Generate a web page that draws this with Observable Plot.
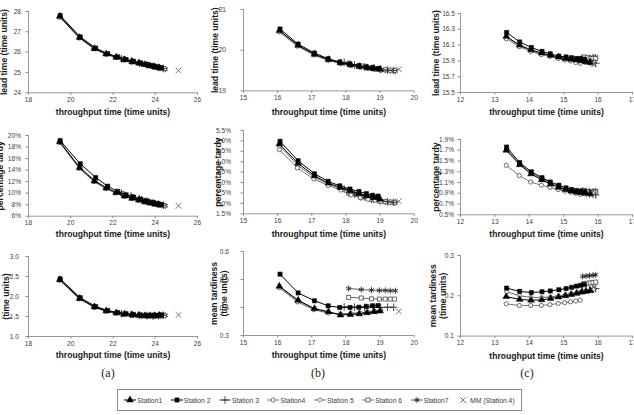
<!DOCTYPE html>
<html>
<head>
<meta charset="utf-8">
<script src="https://cdn.jsdelivr.net/npm/d3@7"></script>
<script src="https://cdn.jsdelivr.net/npm/@observablehq/plot@0.6"></script>
<style>
  html, body { margin: 0; padding: 0; background: #fff; }
  #fig { position: relative; width: 634px; height: 415px; overflow: hidden;
         font-family: "Liberation Sans", Arial, sans-serif; }
  .cap { position: absolute; font-family: "Liberation Serif", "Times New Roman", serif;
         font-size: 12px; color: #222; transform: translate(-50%, -50%); }
  #legend { position: absolute; left: 117px; top: 389px; width: 405px; height: 22px;
            box-sizing: border-box; border: 1px solid #8a8a8a; display: flex;
            align-items: center; justify-content: space-around; padding: 0 2px;
            font-size: 6.8px; color: #3a3a3a; }
  #legend .item { display: flex; align-items: center; white-space: nowrap; }
  #legend svg { margin-right: 1px; }
</style>
</head>
<body>
<div id="fig"></div>
<script>
// ---- data ---------------------------------------------------------------
const stations = ["Station1", "Station 2", "Station 3", "Station4", "Station 5", "Station 6", "Station7"];
const mmLabel = "MM (Station 4)";

// axis ticks
const aXTicks = [18, 20, 22, 24, 26];
const bXTicks = [15, 16, 17, 18, 19, 20];
const cXTicks = [12, 13, 14, 15, 16, 17];
const aLeadTicks = [24, 25, 26, 27, 28];
const bLeadTicks = [19, 20, 21];
const cLeadTicks = [15.5, 15.7, 15.9, 16.1, 16.3, 16.5];
const aTardyTicks = [6, 8, 10, 12, 14, 16, 18, 20];
const bTardyTicks = [1.5, 2.0, 2.5, 3.0, 3.5, 4.0, 4.5, 5.0, 5.5];
const cTardyTicks = [0.5, 0.7, 0.9, 1.1, 1.3, 1.5, 1.7, 1.9];
const aMeanTicks = [1.0, 1.5, 2.0, 2.5, 3.0];
const bMeanTicks = [0.3, 0.4, 0.5, 0.6];
const cMeanTicks = [0.1, 0.2, 0.3];

// (a) throughput time per station (order as in `stations`)
const aX = [
  [19.48, 20.42, 21.12, 21.68, 22.15, 22.55, 22.9, 23.22, 23.5, 23.75, 23.98, 24.2],
  [19.5, 20.45, 21.18, 21.75, 22.22, 22.62, 22.98, 23.3, 23.58, 23.85, 24.08, 24.3],
  [22.4, 22.85, 23.25, 23.6, 23.9, 24.15, 24.38],
  [19.47, 20.4, 21.1, 21.65, 22.12, 22.52, 22.88, 23.2, 23.48, 23.73, 23.96, 24.18],
  [19.49, 20.43, 21.15, 21.7, 22.18, 22.58, 22.94, 23.26, 23.54, 23.8, 24.03, 24.25],
  [22.45, 22.9, 23.3, 23.65, 23.95, 24.2, 24.42],
  [22.5, 22.95, 23.35, 23.7, 24.0, 24.25, 24.48]
];
const aLead = [
  [27.76, 26.72, 26.18, 25.91, 25.75, 25.63, 25.54, 25.46, 25.39, 25.33, 25.27, 25.22],
  [27.8, 26.75, 26.2, 25.93, 25.77, 25.64, 25.55, 25.47, 25.4, 25.33, 25.28, 25.23],
  [25.67, 25.55, 25.46, 25.38, 25.31, 25.25, 25.2],
  [27.72, 26.7, 26.16, 25.9, 25.74, 25.62, 25.53, 25.45, 25.38, 25.32, 25.26, 25.21],
  [27.74, 26.71, 26.17, 25.9, 25.74, 25.62, 25.53, 25.45, 25.38, 25.32, 25.26, 25.21],
  [25.66, 25.54, 25.45, 25.37, 25.3, 25.24, 25.19],
  [25.65, 25.53, 25.44, 25.36, 25.29, 25.23, 25.16]
];
const aTardy = [
  [18.9, 14.4, 12.1, 10.9, 10.1, 9.5, 9.1, 8.8, 8.5, 8.3, 8.1, 7.95],
  [19.1, 15.1, 12.7, 11.2, 10.3, 9.7, 9.3, 8.95, 8.65, 8.4, 8.2, 8.0],
  [10.0, 9.5, 9.0, 8.6, 8.3, 8.1, 7.9],
  [18.8, 14.3, 12.0, 10.8, 10.0, 9.45, 9.05, 8.75, 8.45, 8.25, 8.05, 7.9],
  [18.9, 14.5, 12.2, 10.9, 10.1, 9.5, 9.1, 8.8, 8.5, 8.3, 8.1, 7.95],
  [9.9, 9.4, 8.95, 8.6, 8.3, 8.05, 7.85],
  [9.8, 9.3, 8.9, 8.5, 8.2, 8.0, 7.8]
];
const aMean = [
  [2.42, 1.95, 1.74, 1.64, 1.59, 1.56, 1.54, 1.53, 1.52, 1.52, 1.52, 1.53],
  [2.44, 1.97, 1.75, 1.65, 1.6, 1.57, 1.55, 1.54, 1.53, 1.53, 1.53, 1.54],
  [1.57, 1.55, 1.53, 1.52, 1.51, 1.52, 1.53],
  [2.41, 1.94, 1.73, 1.63, 1.58, 1.55, 1.53, 1.52, 1.51, 1.51, 1.51, 1.52],
  [2.42, 1.95, 1.74, 1.64, 1.59, 1.56, 1.54, 1.52, 1.52, 1.51, 1.52, 1.52],
  [1.56, 1.54, 1.52, 1.51, 1.51, 1.51, 1.52],
  [1.56, 1.54, 1.52, 1.52, 1.51, 1.52, 1.53]
];

// (b)
const bX = [
  [16.05, 16.6, 17.08, 17.49, 17.84, 18.13, 18.39, 18.62, 18.82, 19.0],
  [16.07, 16.6, 17.08, 17.48, 17.82, 18.12, 18.38, 18.6, 18.78, 18.94],
  [17.95, 18.25, 18.55, 18.8, 19.02, 19.22, 19.4],
  [16.05, 16.58, 17.06, 17.48, 17.85, 18.15, 18.42, 18.65, 18.85, 19.02],
  [16.06, 16.6, 17.07, 17.49, 17.84, 18.14, 18.4, 18.64, 18.84, 19.01],
  [18.08, 18.45, 18.75, 18.98, 19.15, 19.3, 19.42],
  [18.08, 18.45, 18.75, 18.98, 19.15, 19.3, 19.45]
];
const bLead = [
  [20.48, 20.12, 19.9, 19.77, 19.69, 19.64, 19.6, 19.57, 19.55, 19.53],
  [20.52, 20.15, 19.93, 19.79, 19.71, 19.66, 19.62, 19.59, 19.57, 19.55],
  [19.7, 19.64, 19.59, 19.56, 19.53, 19.51, 19.5],
  [20.45, 20.1, 19.88, 19.75, 19.67, 19.62, 19.58, 19.55, 19.53, 19.51],
  [20.47, 20.11, 19.89, 19.76, 19.68, 19.63, 19.59, 19.56, 19.54, 19.52],
  [19.68, 19.61, 19.57, 19.54, 19.52, 19.51, 19.5],
  [19.67, 19.6, 19.56, 19.53, 19.51, 19.5, 19.49]
];
const bTardy = [
  [4.85, 3.92, 3.32, 2.97, 2.76, 2.6, 2.47, 2.36, 2.27, 2.2],
  [4.98, 4.05, 3.42, 3.06, 2.84, 2.69, 2.57, 2.47, 2.39, 2.35],
  [2.7, 2.45, 2.3, 2.2, 2.13, 2.08, 2.05],
  [4.58, 3.7, 3.17, 2.86, 2.64, 2.4, 2.27, 2.2, 2.15, 2.1],
  [4.75, 3.82, 3.26, 2.92, 2.72, 2.55, 2.42, 2.32, 2.24, 2.17],
  [2.5, 2.3, 2.2, 2.12, 2.08, 2.06, 2.05],
  [2.48, 2.28, 2.17, 2.1, 2.07, 2.05, 2.04]
];
const bMean = [
  [0.476, 0.426, 0.396, 0.385, 0.373, 0.375, 0.377, 0.381, 0.385, 0.387],
  [0.519, 0.452, 0.424, 0.406, 0.4, 0.4, 0.401, 0.404, 0.406, 0.407],
  [0.402, 0.401, 0.4, 0.4, 0.4, 0.401, 0.401],
  [0.471, 0.42, 0.392, 0.38, 0.376, 0.378, 0.38, 0.383, 0.386, 0.389],
  [0.473, 0.423, 0.394, 0.382, 0.377, 0.379, 0.381, 0.384, 0.387, 0.39],
  [0.436, 0.434, 0.431, 0.43, 0.43, 0.43, 0.43],
  [0.468, 0.464, 0.462, 0.461, 0.461, 0.46, 0.46]
];

// (c)
const cX = [
  [13.33, 13.72, 14.05, 14.36, 14.62, 14.85, 15.05, 15.22, 15.38, 15.52, 15.65, 15.78],
  [13.34, 13.72, 14.06, 14.37, 14.61, 14.86, 15.07, 15.23, 15.37, 15.49, 15.6],
  [15.55, 15.65, 15.75, 15.85, 15.93],
  [13.33, 13.71, 14.04, 14.35, 14.6, 14.84, 15.03, 15.2, 15.35, 15.48],
  [13.34, 13.72, 14.05, 14.36, 14.61, 14.85, 15.05, 15.22, 15.37, 15.51, 15.63, 15.76, 15.86],
  [15.58, 15.68, 15.77, 15.85, 15.93],
  [15.55, 15.65, 15.75, 15.85, 15.93]
];
const cLead = [
  [16.21, 16.1, 16.04, 16.0, 15.97, 15.95, 15.93, 15.92, 15.91, 15.9, 15.89, 15.88],
  [16.26, 16.14, 16.07, 16.02, 15.99, 15.96, 15.95, 15.94, 15.93, 15.93, 15.92],
  [15.92, 15.9, 15.89, 15.88, 15.87],
  [16.18, 16.08, 16.02, 15.98, 15.96, 15.93, 15.91, 15.9, 15.88, 15.87],
  [16.2, 16.09, 16.03, 15.99, 15.96, 15.94, 15.92, 15.91, 15.9, 15.89, 15.88, 15.87, 15.86],
  [15.95, 15.94, 15.93, 15.93, 15.93],
  [15.94, 15.94, 15.94, 15.95, 15.95]
];
const cTardy = [
  [1.7, 1.43, 1.26, 1.15, 1.07, 1.01, 0.97, 0.94, 0.92, 0.91, 0.9, 0.89],
  [1.76, 1.47, 1.3, 1.19, 1.11, 1.05, 1.0, 0.97, 0.95, 0.94, 0.93],
  [0.92, 0.9, 0.89, 0.88, 0.87],
  [1.42, 1.23, 1.11, 1.05, 1.01, 0.97, 0.94, 0.92, 0.9, 0.88],
  [1.72, 1.45, 1.28, 1.17, 1.09, 1.03, 0.98, 0.95, 0.93, 0.92, 0.91, 0.9, 0.89],
  [0.95, 0.93, 0.92, 0.92, 0.92],
  [0.96, 0.95, 0.94, 0.94, 0.95]
];
const cMean = [
  [0.198, 0.191, 0.189, 0.19, 0.193, 0.197, 0.2, 0.203, 0.206, 0.209, 0.211, 0.213],
  [0.219, 0.211, 0.208, 0.21, 0.212, 0.215, 0.218, 0.221, 0.224, 0.226, 0.228],
  [0.213, 0.214, 0.215, 0.217, 0.218],
  [0.18, 0.176, 0.176, 0.176, 0.178, 0.181, 0.183, 0.185, 0.187, 0.189],
  [0.21, 0.2, 0.196, 0.196, 0.197, 0.2, 0.203, 0.206, 0.208, 0.21, 0.212, 0.214, 0.216],
  [0.23, 0.231, 0.232, 0.233, 0.234],
  [0.248, 0.249, 0.25, 0.251, 0.252]
];

// MM (Station 4) single result per scenario (a), (b), (c)
const mmX = [25.1, 19.55, 15.88];
const mmLead = [25.1, 19.53, 15.86];
const mmTardy = [7.8, 2.1, 0.88];
const mmMean = [1.54, 0.386, 0.222];

// ---- styling ------------------------------------------------------------
const FONT = '"Liberation Sans", Arial, sans-serif';
const axisGray = "#8c8c8c";
const tickInk = "#3d3d3d";
const titleInk = "#1a1a1a";

// marker + line style per station (same order as `stations`)
const stationStyle = [
  {symbol: "triangle", r: 2.5, fill: "#000", stroke: "#000", sw: 0.5, line: "#000", lw: 1},
  {symbol: "square", r: 2.4, fill: "#000", stroke: "#000", sw: 0.5, line: "#000", lw: 1},
  {symbol: "plus", r: 2.6, fill: "none", stroke: "#333", sw: 0.9, line: "#333", lw: 0.8},
  {symbol: "circle", r: 2.1, fill: "#fff", stroke: "#4a4a4a", sw: 0.8, line: "#555", lw: 0.8},
  {symbol: "diamond2", r: 2.2, fill: "#fff", stroke: "#444", sw: 0.8, line: "#444", lw: 0.8},
  {symbol: "square", r: 2.3, fill: "#fff", stroke: "#444", sw: 0.8, line: "#444", lw: 0.8},
  {symbol: "asterisk", r: 2.8, fill: "none", stroke: "#222", sw: 0.9, line: "#333", lw: 0.8}
];
const mmStyle = {symbol: "times", r: 2.7, stroke: "#6a6a6a", sw: 0.9};
const drawOrder = [6, 5, 2, 4, 3, 0, 1];

const fig = document.getElementById("fig");

const intFmt = d => String(d);
const fix1 = d => d.toFixed(1);
const pct0 = d => d.toFixed(0) + "%";
const pct1 = d => d.toFixed(1) + "%";

function drawPanel(cfg) {
  const [l, t, r, b] = cfg.frame;
  const ML = 52, MR = 6, MT = 6, MB = 30;
  const width = ML + (r - l) + MR;
  const height = MT + (b - t) + MB;
  const marks = [
    Plot.ruleX([cfg.xDomain[0]], {stroke: axisGray, strokeWidth: 0.9}),
    Plot.ruleY([cfg.yDomain[0]], {stroke: axisGray, strokeWidth: 0.9}),
    Plot.axisX({ticks: cfg.xTicks, tickFormat: intFmt, tickSize: 2.5, tickPadding: 2,
                stroke: axisGray, fill: tickInk, fontSize: 6.6, label: null}),
    Plot.axisY({ticks: cfg.yTicks, tickFormat: cfg.yFormat, tickSize: 2.5, tickPadding: cfg.yPad,
                stroke: axisGray, fill: tickInk, fontSize: 6.6, label: null})
  ];
  for (const i of drawOrder) {
    const st = stationStyle[i];
    const pts = cfg.xs[i].map((x, j) => ({x, y: cfg.ys[i][j]}));
    marks.push(Plot.line(pts, {x: "x", y: "y", stroke: st.line, strokeWidth: st.lw}));
    marks.push(Plot.dot(pts, {x: "x", y: "y", symbol: st.symbol, r: st.r,
                              fill: st.fill, stroke: st.stroke, strokeWidth: st.sw}));
  }
  marks.push(Plot.dot([{x: cfg.mm[0], y: cfg.mm[1]}], {x: "x", y: "y", symbol: mmStyle.symbol,
                      r: mmStyle.r, stroke: mmStyle.stroke, strokeWidth: mmStyle.sw}));
  marks.push(Plot.text(["throughput time (time units)"], {
    text: d => d, frameAnchor: "bottom", lineAnchor: "middle", textAnchor: "middle",
    dy: cfg.xTitleY - b, fontSize: 8.6, fontWeight: "bold", fill: titleInk}));
  marks.push(Plot.text([cfg.yTitle], {
    text: d => d, frameAnchor: "left", rotate: -90, textAnchor: "middle", lineAnchor: "middle",
    lineHeight: 1.2, dx: cfg.yTitleDx, fontSize: 8.6, fontWeight: "bold", fill: titleInk}));

  const svg = Plot.plot({
    width, height,
    marginLeft: ML, marginRight: MR, marginTop: MT, marginBottom: MB,
    x: {domain: cfg.xDomain, label: null},
    y: {domain: cfg.yDomain, label: null},
    style: {fontFamily: FONT, fontSize: "7px", background: "transparent", overflow: "visible"},
    marks
  });
  svg.style.position = "absolute";
  svg.style.left = (l - ML) + "px";
  svg.style.top = (t - MT) + "px";
  fig.append(svg);
}

const leadTitle = "lead time (time units)";
const tardyTitle = "percentage tardy";
const meanTitle = "mean tardiness\n(time units)";

// row 1: lead time
drawPanel({frame: [28.3, 11, 197.3, 92.3], xDomain: [18, 26], xTicks: aXTicks,
  yDomain: [24, 28], yTicks: aLeadTicks, yFormat: intFmt, yPad: 5,
  xs: aX, ys: aLead, mm: [mmX[0], mmLead[0]], yTitle: leadTitle, yTitleDx: -25.3, xTitleY: 111.7});
drawPanel({frame: [243.3, 9.3, 414, 90.7], xDomain: [15, 20], xTicks: bXTicks,
  yDomain: [19, 21], yTicks: bLeadTicks, yFormat: intFmt, yPad: 15,
  xs: bX, ys: bLead, mm: [mmX[1], mmLead[1]], yTitle: leadTitle, yTitleDx: -29.3, xTitleY: 111.7});
drawPanel({frame: [460, 12.7, 632, 91.7], xDomain: [12, 17], xTicks: cXTicks,
  yDomain: [15.5, 16.5], yTicks: cLeadTicks, yFormat: fix1, yPad: 3,
  xs: cX, ys: cLead, mm: [mmX[2], mmLead[2]], yTitle: leadTitle, yTitleDx: -25, xTitleY: 111.7});

// row 2: percentage tardy
drawPanel({frame: [28.3, 135, 197.3, 215.7], xDomain: [18, 26], xTicks: aXTicks,
  yDomain: [6, 20], yTicks: aTardyTicks, yFormat: pct0, yPad: 5,
  xs: aX, ys: aTardy, mm: [mmX[0], mmTardy[0]], yTitle: tardyTitle, yTitleDx: -29.3, xTitleY: 233.3});
drawPanel({frame: [243.3, 130, 414, 213.3], xDomain: [15, 20], xTicks: bXTicks,
  yDomain: [1.5, 5.5], yTicks: bTardyTicks, yFormat: pct1, yPad: 10,
  xs: bX, ys: bTardy, mm: [mmX[1], mmTardy[1]], yTitle: tardyTitle, yTitleDx: -25.6, xTitleY: 233.3});
drawPanel({frame: [460, 139, 632, 214.3], xDomain: [12, 17], xTicks: cXTicks,
  yDomain: [0.5, 1.9], yTicks: cTardyTicks, yFormat: pct1, yPad: 4,
  xs: cX, ys: cTardy, mm: [mmX[2], mmTardy[2]], yTitle: tardyTitle, yTitleDx: -25.3, xTitleY: 233.3});

// row 3: mean tardiness
drawPanel({frame: [28.3, 256, 197.3, 336], xDomain: [18, 26], xTicks: aXTicks,
  yDomain: [1, 3], yTicks: aMeanTicks, yFormat: fix1, yPad: 7,
  xs: aX, ys: aMean, mm: [mmX[0], mmMean[0]], yTitle: meanTitle, yTitleDx: -28, xTitleY: 355});
drawPanel({frame: [243.3, 251.3, 414, 335.3], xDomain: [15, 20], xTicks: bXTicks,
  yDomain: [0.3, 0.6], yTicks: bMeanTicks, yFormat: fix1, yPad: 12,
  xs: bX, ys: bMean, mm: [mmX[1], mmMean[1]], yTitle: meanTitle, yTitleDx: -24.5, xTitleY: 355});
drawPanel({frame: [460, 254.7, 632, 335.3], xDomain: [12, 17], xTicks: cXTicks,
  yDomain: [0.1, 0.3], yTicks: cMeanTicks, yFormat: fix1, yPad: 4,
  xs: cX, ys: cMean, mm: [mmX[2], mmMean[2]], yTitle: meanTitle, yTitleDx: -23, xTitleY: 355});

// scenario captions
[["(a)", 108, 372.5], ["(b)", 318, 372.5], ["(c)", 527, 372.5]].forEach(([txt, x, y]) => {
  const d = document.createElement("div");
  d.className = "cap";
  d.textContent = txt;
  d.style.left = x + "px";
  d.style.top = y + "px";
  fig.append(d);
});

// legend
const symbolFor = {
  triangle: d3.symbolTriangle, square: d3.symbolSquare, plus: d3.symbolPlus,
  circle: d3.symbolCircle, diamond2: d3.symbolDiamond2, asterisk: d3.symbolAsterisk,
  times: d3.symbolTimes
};
const legend = document.createElement("div");
legend.id = "legend";
function legendItem(label, st, withLine) {
  const item = document.createElement("div");
  item.className = "item";
  const sw = d3.create("svg").attr("width", 12).attr("height", 8);
  if (withLine) sw.append("line").attr("x1", 0).attr("x2", 12).attr("y1", 4).attr("y2", 4)
    .attr("stroke", st.line).attr("stroke-width", st.lw);
  sw.append("path")
    .attr("d", d3.symbol(symbolFor[st.symbol], Math.PI * st.r * st.r)())
    .attr("transform", "translate(6,4)")
    .attr("fill", st.fill || "none").attr("stroke", st.stroke).attr("stroke-width", st.sw);
  item.append(sw.node());
  const span = document.createElement("span");
  span.textContent = label;
  item.append(span);
  legend.append(item);
}
stations.forEach((s, i) => legendItem(s, stationStyle[i], true));
legendItem(mmLabel, {...mmStyle, fill: "none"}, false);
fig.append(legend);
</script>
</body>
</html>
